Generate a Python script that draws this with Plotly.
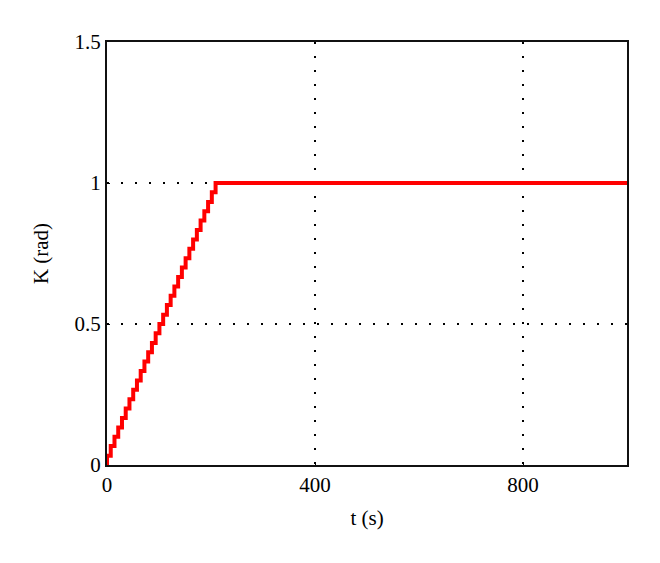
import plotly.graph_objects as go

# step times (s) and gain values (rad) read from the staircase
t_steps = [0, 7.2, 14.4, 21.6, 28.8, 36, 43.2, 50.4, 57.6, 64.8, 72, 79.2,
           86.4, 93.6, 100.8, 108, 115.2, 122.4, 129.6, 136.8, 144, 151.2,
           158.4, 165.6, 172.8, 180, 187.2, 194.4, 201.6, 208.8, 216, 1000]
k_steps = [0.0, 0.033, 0.067, 0.1, 0.133, 0.167, 0.2, 0.233, 0.267, 0.3,
           0.333, 0.367, 0.4, 0.433, 0.467, 0.5, 0.533, 0.567, 0.6, 0.633,
           0.667, 0.7, 0.733, 0.767, 0.8, 0.833, 0.867, 0.9, 0.933, 0.967,
           1.0, 1.0]

x_ticks = [0, 400, 800]
y_ticks = [0, 0.5, 1, 1.5]
y_tick_text = ['0', '0.5', '1', '1.5']

font_family = 'Liberation Serif, DejaVu Serif, serif'

fig = go.Figure(go.Scatter(
    x=t_steps, y=k_steps,
    mode='lines',
    line=dict(color='#ff0000', width=4, shape='vh'),
    showlegend=False
))

axis_common = dict(
    showline=True, linecolor='#111111', linewidth=2, mirror=True,
    showgrid=True, gridcolor='black', gridwidth=1.5, griddash='2px,12px',
    zeroline=False, ticks='inside', ticklen=3, tickcolor='black',
    tickfont=dict(family=font_family, size=21, color='black'),
)

fig.update_xaxes(
    range=[0, 1000], tickvals=x_ticks,
    title=dict(text='t (s)', font=dict(family=font_family, size=21, color='black'), standoff=14),
    **axis_common
)
fig.update_yaxes(
    range=[0, 1.5], tickvals=y_ticks, ticktext=y_tick_text,
    title=dict(text='K (rad)', font=dict(family=font_family, size=21, color='black'), standoff=20),
    **axis_common
)

# page body adds ~8px offset, so the figure is a bit smaller than the window
fig.update_layout(
    width=652, height=555,
    margin=dict(l=99, r=33, t=34, b=98),
    paper_bgcolor='white', plot_bgcolor='white',
)

fig.write_html('out.html')
